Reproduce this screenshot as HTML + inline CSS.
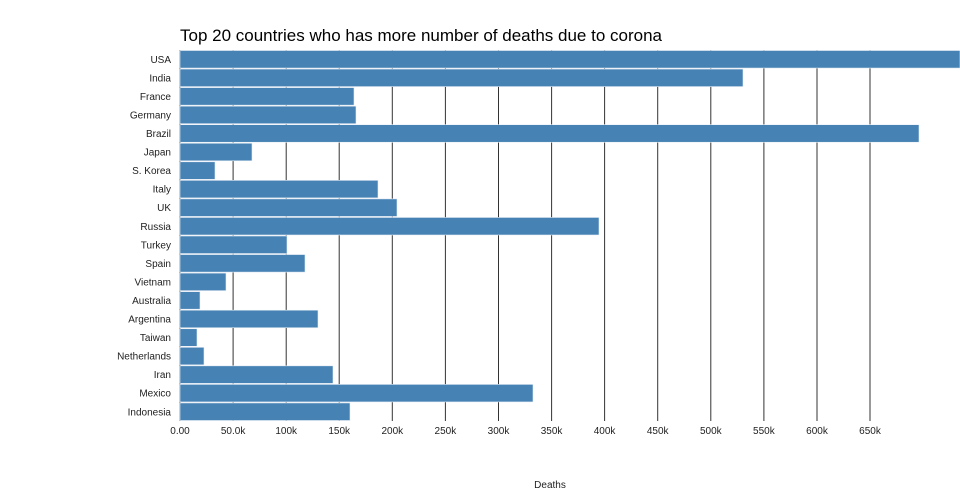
<!DOCTYPE html>
<html><head><meta charset="utf-8"><style>body{margin:0;background:#fff}svg{display:block;font-family:"Liberation Sans","DejaVu Sans",sans-serif}</style></head>
<body>
<svg width="960" height="500" xmlns="http://www.w3.org/2000/svg">
<text x="180" y="41" font-size="17" fill="#000" textLength="482" lengthAdjust="spacingAndGlyphs">Top 20 countries who has more number of deaths due to corona</text>
<g stroke="#333" stroke-width="1">
<line x1="180" x2="180" y1="50" y2="421"/><line x1="233.1" x2="233.1" y1="50" y2="421"/><line x1="286.2" x2="286.2" y1="50" y2="421"/><line x1="339.2" x2="339.2" y1="50" y2="421"/><line x1="392.3" x2="392.3" y1="50" y2="421"/><line x1="445.4" x2="445.4" y1="50" y2="421"/><line x1="498.5" x2="498.5" y1="50" y2="421"/><line x1="551.6" x2="551.6" y1="50" y2="421"/><line x1="604.6" x2="604.6" y1="50" y2="421"/><line x1="657.7" x2="657.7" y1="50" y2="421"/><line x1="710.8" x2="710.8" y1="50" y2="421"/><line x1="763.9" x2="763.9" y1="50" y2="421"/><line x1="817" x2="817" y1="50" y2="421"/><line x1="870" x2="870" y1="50" y2="421"/>
</g>
<g fill="#4682b4" stroke="#e8eef5" stroke-width="0.6">
<rect x="180" y="50.5" width="780" height="17.55"/>
<rect x="180" y="69.05" width="563" height="17.55"/>
<rect x="180" y="87.6" width="174" height="17.55"/>
<rect x="180" y="106.15" width="176" height="17.55"/>
<rect x="180" y="124.7" width="739" height="17.55"/>
<rect x="180" y="143.25" width="72" height="17.55"/>
<rect x="180" y="161.8" width="35" height="17.55"/>
<rect x="180" y="180.35" width="198" height="17.55"/>
<rect x="180" y="198.9" width="217" height="17.55"/>
<rect x="180" y="217.45" width="419" height="17.55"/>
<rect x="180" y="236" width="107" height="17.55"/>
<rect x="180" y="254.55" width="125" height="17.55"/>
<rect x="180" y="273.1" width="46" height="17.55"/>
<rect x="180" y="291.65" width="20" height="17.55"/>
<rect x="180" y="310.2" width="138" height="17.55"/>
<rect x="180" y="328.75" width="17" height="17.55"/>
<rect x="180" y="347.3" width="24" height="17.55"/>
<rect x="180" y="365.85" width="153" height="17.55"/>
<rect x="180" y="384.4" width="353" height="17.55"/>
<rect x="180" y="402.95" width="170" height="17.55"/>
</g>
<g font-size="10" fill="#222" text-anchor="end">
<text x="171" y="62.8">USA</text><text x="171" y="81.35">India</text><text x="171" y="99.9">France</text><text x="171" y="118.45">Germany</text><text x="171" y="137">Brazil</text><text x="171" y="155.55">Japan</text><text x="171" y="174.1">S. Korea</text><text x="171" y="192.65">Italy</text><text x="171" y="211.2">UK</text><text x="171" y="229.75">Russia</text><text x="171" y="248.3">Turkey</text><text x="171" y="266.85">Spain</text><text x="171" y="285.4">Vietnam</text><text x="171" y="303.95">Australia</text><text x="171" y="322.5">Argentina</text><text x="171" y="341.05">Taiwan</text><text x="171" y="359.6">Netherlands</text><text x="171" y="378.15">Iran</text><text x="171" y="396.7">Mexico</text><text x="171" y="415.25">Indonesia</text>
</g>
<g font-size="10" fill="#222" text-anchor="middle">
<text x="180" y="434">0.00</text><text x="233.1" y="434">50.0k</text><text x="286.2" y="434">100k</text><text x="339.2" y="434">150k</text><text x="392.3" y="434">200k</text><text x="445.4" y="434">250k</text><text x="498.5" y="434">300k</text><text x="551.6" y="434">350k</text><text x="604.6" y="434">400k</text><text x="657.7" y="434">450k</text><text x="710.8" y="434">500k</text><text x="763.9" y="434">550k</text><text x="817" y="434">600k</text><text x="870" y="434">650k</text>
</g>
<text x="550" y="488" font-size="10" text-anchor="middle" fill="#222">Deaths</text>
</svg>
</body></html>
